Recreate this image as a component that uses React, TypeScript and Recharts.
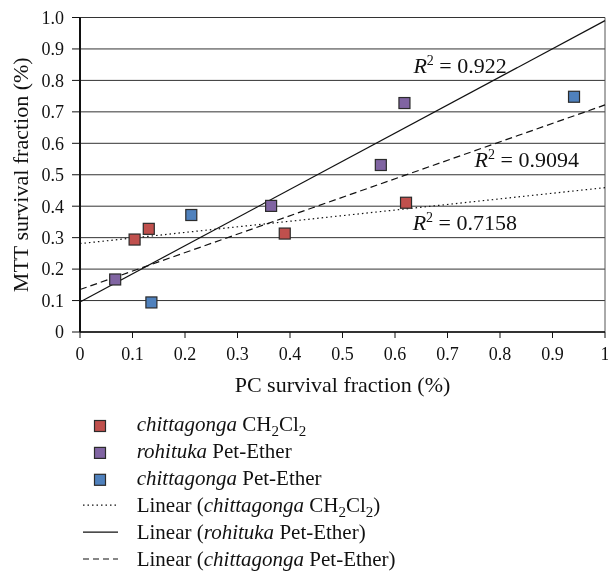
import { ScatterChart, Scatter, XAxis, YAxis, CartesianGrid, ReferenceLine, ReferenceDot, Label } from 'recharts'

const X_TICKS = [0, 0.1, 0.2, 0.3, 0.4, 0.5, 0.6, 0.7, 0.8, 0.9, 1]
const Y_TICKS = [0, 0.1, 0.2, 0.3, 0.4, 0.5, 0.6, 0.7, 0.8, 0.9, 1]

const chittagongaCH2Cl2 = [
  { x: 0.104, y: 0.294 },
  { x: 0.131, y: 0.328 },
  { x: 0.39, y: 0.313 },
  { x: 0.621, y: 0.411 },
]
const rohitukaPetEther = [
  { x: 0.067, y: 0.167 },
  { x: 0.364, y: 0.401 },
  { x: 0.573, y: 0.531 },
  { x: 0.618, y: 0.728 },
]
const chittagongaPetEther = [
  { x: 0.136, y: 0.094 },
  { x: 0.212, y: 0.372 },
  { x: 0.941, y: 0.748 },
]

// trendline end points
const TREND_CH2CL2 = [{ x: 0, y: 0.281 }, { x: 1, y: 0.459 }]
const TREND_ROHITUKA = [{ x: 0, y: 0.0955 }, { x: 1, y: 0.99 }]
const TREND_PET = [{ x: 0, y: 0.135 }, { x: 1, y: 0.722 }]

const R2_LABELS = [
  { x: 0.724, y: 0.825, value: '0.922' },
  { x: 0.851, y: 0.5255, value: '0.9094' },
  { x: 0.733, y: 0.324, value: '0.7158' },
]

const FONT = '"Liberation Serif", "Times New Roman", serif'
const RED = '#c0504d'
const PURPLE = '#8064a2'
const BLUE = '#4f81bd'

const fmtY = (v: number) => (v === 0 ? '0' : v.toFixed(1))
const fmtX = (v: number) => (v === 0 || v === 1 ? String(v) : v.toFixed(1))

function squareShape(fill: string) {
  // eslint-disable-next-line @typescript-eslint/no-explicit-any
  return (p: any) => (
    <rect x={p.cx - 5.5} y={p.cy - 5.5} width={11} height={11} fill={fill} stroke="#2b2b2b" strokeWidth={1.2} />
  )
}

// eslint-disable-next-line @typescript-eslint/no-explicit-any
function R2Text({ cx, cy, value }: any) {
  return (
    <text x={cx} y={cy} textAnchor="middle" fontFamily={FONT} fontSize={22} fill="#111">
      <tspan fontStyle="italic">R</tspan>
      <tspan dy={-8} fontSize={14}>2</tspan>
      <tspan dy={8}>{` = ${value}`}</tspan>
    </text>
  )
}

const LEGEND = [
  { kind: 'square', color: RED, italic: 'chittagonga', rest: 'CH2Cl2' },
  { kind: 'square', color: PURPLE, italic: 'rohituka', rest: 'Pet-Ether' },
  { kind: 'square', color: BLUE, italic: 'chittagonga', rest: 'Pet-Ether' },
  { kind: 'line', dash: '1.5 3', italic: 'chittagonga', rest: 'CH2Cl2', linear: true },
  { kind: 'line', dash: undefined, italic: 'rohituka', rest: 'Pet-Ether', linear: true },
  { kind: 'line', dash: '6 4', italic: 'chittagonga', rest: 'Pet-Ether', linear: true },
]

function Rest({ text, suffix }: { text: string; suffix: string }) {
  if (text === 'CH2Cl2') {
    return (
      <>
        <tspan>CH</tspan>
        <tspan dy={5} fontSize={15}>2</tspan>
        <tspan dy={-5}>Cl</tspan>
        <tspan dy={5} fontSize={15}>2</tspan>
        {suffix ? <tspan dy={-5}>{suffix}</tspan> : null}
      </>
    )
  }
  return <tspan>{text + suffix}</tspan>
}

function ChartLegend() {
  const rowGap = 26.9
  const firstBase = 23
  return (
    <svg width={600} height={163} style={{ position: 'absolute', left: 0, top: 400 }}>
      {LEGEND.map((item, i) => {
        const base = firstBase + i * rowGap
        return (
          <g key={i}>
            {item.kind === 'square' ? (
              <rect x={86.5} y={base - 10.5} width={11} height={11} fill={item.color} stroke="#2b2b2b" strokeWidth={1.2} />
            ) : (
              <line x1={75} x2={110} y1={base - 6.5} y2={base - 6.5} stroke="#111" strokeWidth={1.2} strokeDasharray={item.dash} />
            )}
            <text x={128.7} y={base} fontFamily={FONT} fontSize={21} fill="#111">
              {item.linear ? <tspan>{'Linear ('}</tspan> : null}
              <tspan fontStyle="italic">{item.italic}</tspan>
              <tspan>{' '}</tspan>
              <Rest text={item.rest} suffix={item.linear ? ')' : ''} />
            </text>
          </g>
        )
      })}
    </svg>
  )
}

export default function App() {
  return (
    <div style={{ position: 'fixed', left: 8, top: 8, width: 600, height: 563, fontFamily: FONT }}>
      <ScatterChart width={600} height={400} margin={{ top: 9.5, right: 3, left: 0, bottom: 0 }}>
        <CartesianGrid vertical={false} stroke="#333" horizontalValues={Y_TICKS} />
        <XAxis
          type="number"
          dataKey="x"
          domain={[0, 1]}
          ticks={X_TICKS}
          tickFormatter={fmtX}
          height={76}
          tickSize={6}
          tickMargin={9}
          tick={{ fill: '#111', fontSize: 18, fontFamily: FONT }}
          axisLine={{ stroke: '#111', strokeWidth: 1.5 }}
          tickLine={{ stroke: '#111' }}
          interval={0}
        >
          <Label
            // eslint-disable-next-line @typescript-eslint/no-explicit-any
            content={(p: any) => (
              <text x={p.viewBox.x + p.viewBox.width / 2} y={p.viewBox.y + 59.5} textAnchor="middle" fontFamily={FONT} fontSize={22} fill="#111">
                PC survival fraction (%)
              </text>
            )}
          />
        </XAxis>
        <YAxis
          type="number"
          dataKey="y"
          domain={[0, 1]}
          ticks={Y_TICKS}
          tickFormatter={fmtY}
          width={72}
          tickSize={8}
          tickMargin={8}
          tick={{ fill: '#111', fontSize: 18, fontFamily: FONT }}
          axisLine={{ stroke: '#111', strokeWidth: 2 }}
          tickLine={{ stroke: '#111' }}
          interval={0}
        >
          <Label
            // eslint-disable-next-line @typescript-eslint/no-explicit-any
            content={(p: any) => {
              const cy = p.viewBox.y + p.viewBox.height / 2
              return (
                <text x={20.3} y={cy} transform={`rotate(-90, 20.3, ${cy})`} textAnchor="middle" fontFamily={FONT} fontSize={22} fill="#111">
                  MTT survival fraction (%)
                </text>
              )
            }}
          />
        </YAxis>
        <ReferenceLine x={1} stroke="#555" />
        <ReferenceLine segment={TREND_CH2CL2} stroke="#111" strokeWidth={1.2} strokeDasharray="1.5 3" />
        <ReferenceLine segment={TREND_ROHITUKA} stroke="#111" strokeWidth={1.2} />
        <ReferenceLine segment={TREND_PET} stroke="#111" strokeWidth={1.2} strokeDasharray="7 4" />
        {R2_LABELS.map(l => (
          <ReferenceDot
            key={l.value}
            x={l.x}
            y={l.y}
            r={0}
            // eslint-disable-next-line @typescript-eslint/no-explicit-any
            shape={(p: any) => <R2Text cx={p.cx} cy={p.cy} value={l.value} />}
          />
        ))}
        <Scatter data={chittagongaCH2Cl2} shape={squareShape(RED)} isAnimationActive={false} />
        <Scatter data={rohitukaPetEther} shape={squareShape(PURPLE)} isAnimationActive={false} />
        <Scatter data={chittagongaPetEther} shape={squareShape(BLUE)} isAnimationActive={false} />
      </ScatterChart>
      <ChartLegend />
    </div>
  )
}
